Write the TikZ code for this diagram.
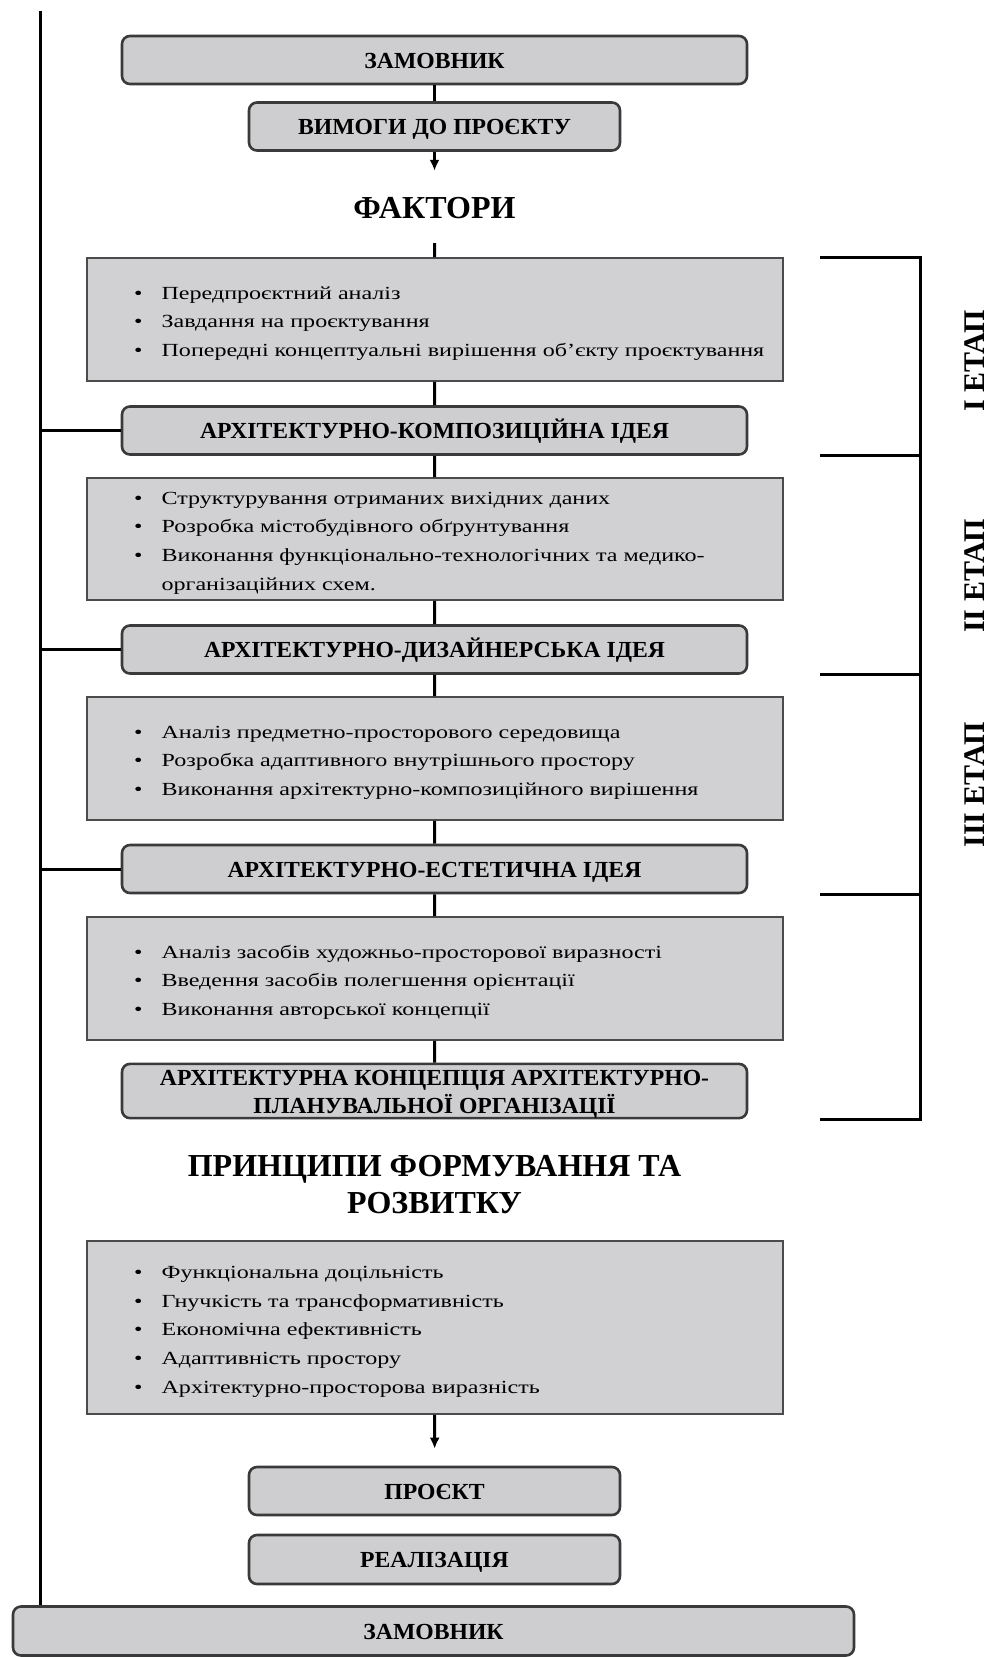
\documentclass[tikz,border=0pt]{standalone}
\usepackage{fontspec}
\setmainfont{Liberation Serif}
\newfontfamily\bodyfont[FakeStretch=1.3]{Liberation Serif}
\newfontfamily\titlefont[FakeStretch=1.03]{Liberation Serif}
\usetikzlibrary{arrows.meta}
\definecolor{boxfill}{RGB}{206,206,209}
\definecolor{boxline}{RGB}{58,58,58}
\definecolor{panelfill}{RGB}{209,209,212}
\definecolor{panelline}{RGB}{75,75,75}

\begin{document}
\begin{tikzpicture}[x=1pt,y=-1pt,
  titlebox/.style={draw=boxline, fill=boxfill, rounded corners=8pt, line width=2.6pt,
    inner sep=0pt, font=\titlefont\fontsize{23}{27}\selectfont\bfseries, align=center,
    text height=16pt, text depth=0pt},
  widebox/.style={titlebox, minimum width=625pt, minimum height=48pt},
  shortbox/.style={titlebox, minimum width=371pt, minimum height=48pt},
  panel/.style={draw=panelline, fill=panelfill, line width=1.6pt, inner sep=0pt,
    minimum width=696pt},
  bullets/.style={anchor=west, inner sep=0pt,
    font=\bodyfont\fontsize{18.5}{28.7}\selectfont},
  link/.style={line width=3pt, black},
  arrowlink/.style={link, -{Latex[length=11pt,width=10pt]}},
  heading/.style={font=\fontsize{32}{37}\selectfont\bfseries, align=center, inner sep=0pt},
  stage/.style={rotate=90, font=\fontsize{30}{30}\selectfont\bfseries, inner sep=0pt},
]
\useasboundingbox (0,0) rectangle (990,1657);

% ---- top part ----
\node[widebox] (client) at (434.5,60) {ЗАМОВНИК};
\node[shortbox] (req) at (434.5,126.5) {ВИМОГИ ДО ПРОЄКТУ};
\node[heading, minimum height=72pt, text height=22pt, text depth=0pt] (factors) at (434.5,207) {ФАКТОРИ};

% ---- stages ----
\node[panel, minimum height=123pt] (p1) at (435,319.5) {};
\node[bullets] (t1) at (134,322) {\begin{tabular}{@{}l@{\hspace{19pt}}l@{}}
•& Передпроєктний аналіз\\
•& Завдання на проєктування\\
•& Попередні концептуальні вирішення об’єкту проєктування
\end{tabular}};
\node[widebox] (idea1) at (434.5,430.5) {АРХІТЕКТУРНО-КОМПОЗИЦІЙНА ІДЕЯ};

\node[panel, minimum height=122pt] (p2) at (435,539) {};
\node[bullets] (t2) at (134,541.5) {\begin{tabular}{@{}l@{\hspace{19pt}}l@{}}
•& Структурування отриманих вихідних даних\\
•& Розробка містобудівного обґрунтування\\
•& Виконання функціонально-технологічних та медико-\\
 & організаційних схем.
\end{tabular}};
\node[widebox] (idea2) at (434.5,649.5) {АРХІТЕКТУРНО-ДИЗАЙНЕРСЬКА ІДЕЯ};

\node[panel, minimum height=123pt] (p3) at (435,758.5) {};
\node[bullets] (t3) at (134,761) {\begin{tabular}{@{}l@{\hspace{19pt}}l@{}}
•& Аналіз предметно-просторового середовища\\
•& Розробка адаптивного внутрішнього простору\\
•& Виконання архітектурно-композиційного вирішення
\end{tabular}};
\node[widebox] (idea3) at (434.5,869) {АРХІТЕКТУРНО-ЕСТЕТИЧНА ІДЕЯ};

\node[panel, minimum height=123pt] (p4) at (435,978.5) {};
\node[bullets] (t4) at (134,981) {\begin{tabular}{@{}l@{\hspace{19pt}}l@{}}
•& Аналіз засобів художньо-просторової виразності\\
•& Введення засобів полегшення орієнтації\\
•& Виконання авторської концепції
\end{tabular}};
\node[widebox, minimum height=54pt, text height=, text depth=] (idea4) at (434.5,1091)
  {\raisebox{-3pt}[\height][\depth]{\begin{tabular}{@{}c@{}}АРХІТЕКТУРНА КОНЦЕПЦІЯ АРХІТЕКТУРНО-\\ПЛАНУВАЛЬНОЇ ОРГАНІЗАЦІЇ\end{tabular}}};

% ---- principles ----
\node[heading] (princ) at (434.5,1188)
  {\begin{tabular}{@{}c@{}}ПРИНЦИПИ ФОРМУВАННЯ ТА\\РОЗВИТКУ\end{tabular}};
\node[panel, minimum height=173pt] (p5) at (435,1327.5) {};
\node[bullets] (t5) at (134,1330) {\begin{tabular}{@{}l@{\hspace{19pt}}l@{}}
•& Функціональна доцільність\\
•& Гнучкість та трансформативність\\
•& Економічна ефективність\\
•& Адаптивність простору\\
•& Архітектурно-просторова виразність
\end{tabular}};

\node[shortbox] (proj) at (434.5,1491) {ПРОЄКТ};
\node[shortbox, minimum height=49pt] (impl) at (434.5,1559.5) {РЕАЛІЗАЦІЯ};
\node[titlebox, minimum width=841pt, minimum height=49pt] (client2) at (433.5,1631) {ЗАМОВНИК};

% ---- vertical flow ----
\draw[link] (client) -- (req);
\draw[arrowlink] (req) -- (factors);
\draw[link] (factors) -- (p1);
\draw[link] (p1) -- (idea1);
\draw[link] (idea1) -- (p2);
\draw[link] (p2) -- (idea2);
\draw[link] (idea2) -- (p3);
\draw[link] (p3) -- (idea3);
\draw[link] (idea3) -- (p4);
\draw[link] (p4) -- (idea4);
\draw[arrowlink, shorten >=17pt] (p5) -- (proj);

% ---- feedback line on the left ----
\coordinate (ltop) at (40,11);
\draw[link] (ltop) -- (ltop |- client2.north);
\foreach \n in {idea1,idea2,idea3}
  \draw[link] (\n.west) -- (\n.west -| ltop);

% ---- stage bracket on the right ----
\coordinate (bx) at (920,0);
\coordinate (bl) at (820,0);
\draw[link, line join=miter] (bl |- p1.north) -- (bx |- p1.north) -- (bx |- idea4.south) -- (bl |- idea4.south);
\foreach \n in {idea1,idea2,idea3}
  \draw[link] (bl |- \n.south) -- (bx |- \n.south);

\node[stage] (s1) at (975,361) {І ЕТАП};
\node[stage] (s2) at (975,576) {ІІ ЕТАП};
\node[stage] (s3) at (975,785) {ІІІ ЕТАП};
\end{tikzpicture}
\end{document}
